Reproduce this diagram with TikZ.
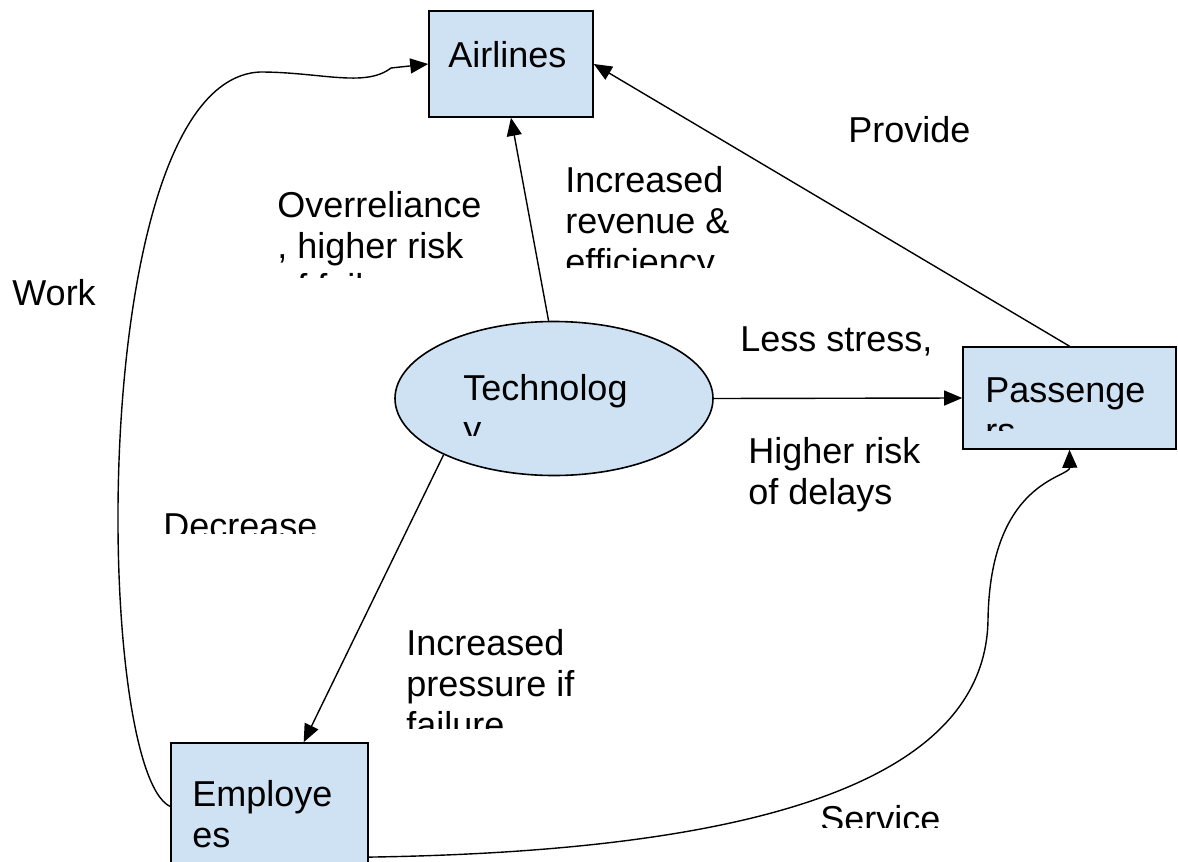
\documentclass[tikz,border=0pt]{standalone}
\usepackage{fontspec}
\setmainfont{Liberation Sans}
\usetikzlibrary{arrows.meta,shapes.geometric}
\definecolor{boxblue}{RGB}{207,226,243}

\begin{document}
\begin{tikzpicture}[
		x=0.5pt, y=-0.5pt,
		box/.style={draw, fill=boxblue, line width=0.8pt, inner sep=0pt},
		link/.style={-{Triangle[length=9pt,width=7.5pt]}, line width=0.7pt},
		% anchored at the baseline of the last line
		lbl/.style={anchor=base west, inner sep=0pt, align=left},
		every node/.append style={font=\fontsize{18}{20.5}\selectfont}
		]
		
		% Page frame
		\clip (0,0) rectangle (1178,862);
		
		% Actors
		\node[box, minimum width=82pt, minimum height=53pt] (air) at (511,64) {};
		\node[box, minimum width=106.5pt, minimum height=51pt] (pas) at (1069.5,398) {};
		\node[box, minimum width=98.5pt, minimum height=63.5pt] (emp) at (269.5,806.5) {};
		\node[box, ellipse, minimum width=159pt, minimum height=77pt] (tech) at (554,398.5) {};
		
		% Names inside the shapes
		\node[lbl] (airtxt) at (448,67) {Airlines};
		\begin{scope}
			\clip (975,360) rectangle (1170,430);
			\node[lbl] (pastxt) at (985,443) {Passenge\\rs};
		\end{scope}
		\node[lbl] (emptxt) at (192,847) {Employe\\es};
		\begin{scope}
			\clip (455,340) rectangle (650,435);
			\node[lbl] (techtxt) at (463,441) {Technolog\\y};
		\end{scope}
		
		% Links
		\draw[link] (tech.94) -- (air.south);
		\draw[link] (pas.north) -- (air.east);
		\draw[link] (tech.east) -- (pas.west);
		\draw[link] (tech.207) -- (emp.62);
		\draw[link] (emp.west) .. controls (93,770) and (85,80) .. (260,72)
			.. controls (320,72) and (365,88) .. (391,68) -- (air.west);
		\draw[link] (emp.-27) .. controls (700,852) and (985,800) .. (988,620)
			.. controls (990,480) and (1070,478) .. (pas.south);
		
		% Link labels
		\begin{scope}
			\clip (270,170) rectangle (500,277);
			\node[lbl] (overrel) at (277,299) {Overreliance\\, higher risk\\of failure};
		\end{scope}
		\begin{scope}
			\clip (558,150) rectangle (760,267);
			\node[lbl] (revenue) at (565,274) {Increased\\revenue \&\\efficiency};
		\end{scope}
		\node[lbl] (provide) at (848,142) {Provide};
		\node[lbl] (work) at (12,305) {Work};
		\node[lbl] (stress) at (740,351) {Less stress,};
		\node[lbl] (delays) at (748,504) {Higher risk\\of delays};
		\begin{scope}
			\clip (150,490) rectangle (360,533);
			\node[lbl] (decrease) at (163,538) {Decrease};
		\end{scope}
		\begin{scope}
			\clip (400,600) rectangle (640,728);
			\node[lbl] (pressure) at (406,737) {Increased\\pressure if\\failure};
		\end{scope}
		\begin{scope}
			\clip (800,780) rectangle (990,827);
			\node[lbl] (service) at (820,831) {Service};
		\end{scope}
		
	\end{tikzpicture}
\end{document}
